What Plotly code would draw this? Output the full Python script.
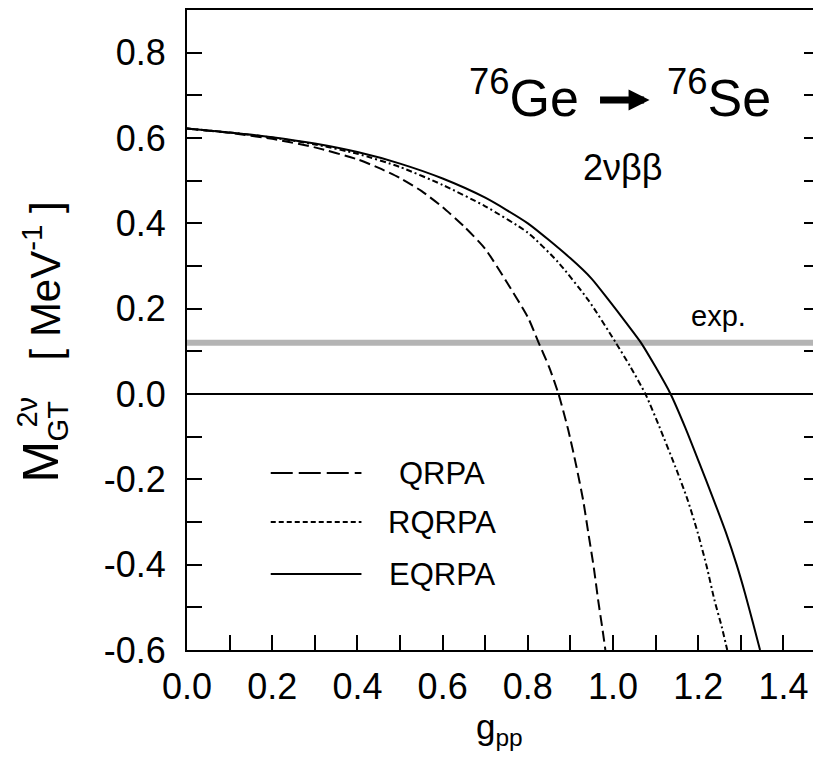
import plotly.graph_objects as go

# ---------------- data ----------------
g_qrpa = [0.0, 0.1, 0.2, 0.3, 0.4, 0.45, 0.5, 0.55, 0.6, 0.65, 0.7, 0.75, 0.8,
          0.825, 0.85, 0.872, 0.895, 0.914, 0.93, 0.942, 0.955, 0.965, 0.975, 0.982]
m_qrpa = [0.622, 0.612, 0.598, 0.578, 0.550, 0.530, 0.506, 0.476, 0.438, 0.393, 0.340, 0.263, 0.180,
          0.121, 0.063, 0.0, -0.085, -0.170, -0.250, -0.326, -0.408, -0.483, -0.550, -0.600]

g_rqrpa = [0.0, 0.1, 0.2, 0.3, 0.4, 0.5, 0.6, 0.7, 0.8, 0.87, 0.942, 1.006, 1.04,
           1.076, 1.11, 1.146, 1.175, 1.199, 1.22, 1.238, 1.255, 1.268]
m_rqrpa = [0.622, 0.613, 0.601, 0.585, 0.563, 0.532, 0.490, 0.440, 0.378, 0.310, 0.220, 0.121, 0.065,
           0.0, -0.080, -0.170, -0.248, -0.326, -0.405, -0.483, -0.545, -0.600]

g_eqrpa = [0.0, 0.1, 0.2, 0.3, 0.4, 0.5, 0.6, 0.7, 0.8, 0.9, 0.95, 0.99, 1.03, 1.065,
           1.1, 1.135, 1.17, 1.201, 1.235, 1.265, 1.29, 1.31, 1.328, 1.345]
m_eqrpa = [0.622, 0.613, 0.602, 0.587, 0.567, 0.540, 0.505, 0.460, 0.400, 0.318, 0.270, 0.220, 0.168, 0.121,
           0.063, 0.0, -0.080, -0.158, -0.245, -0.325, -0.400, -0.468, -0.535, -0.600]

exp_g = [0.0, 1.6]
exp_m = [0.12, 0.12]

series_names = ["QRPA", "RQRPA", "EQRPA"]

x_tickvals = [0.0, 0.1, 0.2, 0.3, 0.4, 0.5, 0.6, 0.7, 0.8, 0.9, 1.0, 1.1, 1.2, 1.3, 1.4]
x_ticktext = ["0.0", "", "0.2", "", "0.4", "", "0.6", "", "0.8", "", "1.0", "", "1.2", "", "1.4"]
y_tickvals = [-0.6, -0.5, -0.4, -0.3, -0.2, -0.1, 0.0, 0.1, 0.2, 0.3, 0.4, 0.5, 0.6, 0.7, 0.8]
y_ticktext = ["-0.6", "", "-0.4", "", "-0.2", "", "0.0", "", "0.2", "", "0.4", "", "0.6", "", "0.8"]

# ---------------- layout geometry ----------------
# the page has an 8px body margin; positions below are in screenshot (page) pixels
OFF = 8
W, H = 821 - OFF, 764 - 2 * OFF     # keep the page free of scrollbars
L, T = 187 - OFF, 10 - OFF          # plot-area left/top inside the figure
PLOT_BOTTOM = 650 - OFF
B = H - PLOT_BOTTOM
R = 0
PW, PH = W - L - R, PLOT_BOTTOM - T
X_SCALE = 427.4                     # pixels per unit of g_pp
x_right = PW / X_SCALE


def px(ox):
    return (ox - OFF - L) / PW


def py(oy):
    return (PLOT_BOTTOM - (oy - OFF)) / PH


FONT = "Liberation Sans, Arial, sans-serif"
BLACK = "#000000"

QRPA_DASH = "11px,5px"
RQRPA_DASH = "6px,3px,2px,3px"

fig = go.Figure()

fig.add_trace(go.Scatter(x=exp_g, y=exp_m, mode="lines",
                         line=dict(color="#b4b4b4", width=6), showlegend=False, hoverinfo="skip"))
fig.add_trace(go.Scatter(x=g_qrpa, y=m_qrpa, mode="lines", name=series_names[0],
                         line=dict(color=BLACK, width=2, dash=QRPA_DASH, shape="spline", smoothing=0.6),
                         showlegend=False))
fig.add_trace(go.Scatter(x=g_rqrpa, y=m_rqrpa, mode="lines", name=series_names[1],
                         line=dict(color=BLACK, width=2, dash=RQRPA_DASH, shape="spline", smoothing=0.6),
                         showlegend=False))
fig.add_trace(go.Scatter(x=g_eqrpa, y=m_eqrpa, mode="lines", name=series_names[2],
                         line=dict(color=BLACK, width=2, shape="spline", smoothing=0.6),
                         showlegend=False))

fig.update_layout(
    width=W, height=H, autosize=False,
    margin=dict(l=L, r=R, t=T, b=B, pad=0),
    paper_bgcolor="white", plot_bgcolor="white",
    font=dict(family=FONT, color=BLACK),
    showlegend=False,
    xaxis=dict(range=[0, x_right], tickvals=x_tickvals, ticktext=x_ticktext,
               ticks="inside", ticklen=15, tickwidth=2, tickcolor=BLACK,
               showline=True, linewidth=2, linecolor=BLACK, mirror=True,
               showgrid=False, zeroline=False,
               tickfont=dict(size=36, family=FONT), ticklabelstandoff=4),
    yaxis=dict(range=[-0.6, 0.9], tickvals=y_tickvals, ticktext=y_ticktext,
               ticks="inside", ticklen=15, tickwidth=2, tickcolor=BLACK,
               showline=True, linewidth=2, linecolor=BLACK, mirror="allticks",
               showgrid=False, zeroline=True, zerolinecolor=BLACK, zerolinewidth=1.5,
               tickfont=dict(size=36, family=FONT), ticklabelstandoff=12),
)

ann = []
# reaction title
ann.append(dict(text="<sup>76</sup>Ge", x=px(582), y=py(129), xref="paper", yref="paper",
                xanchor="right", yanchor="bottom", showarrow=False, font=dict(size=52)))
ann.append(dict(text="<sup>76</sup>Se", x=px(667), y=py(129), xref="paper", yref="paper",
                xanchor="left", yanchor="bottom", showarrow=False, font=dict(size=52)))
ann.append(dict(text="", x=px(651), y=py(100), xref="paper", yref="paper",
                ax=-51, ay=0, showarrow=True, arrowhead=2, arrowsize=0.6, arrowwidth=7,
                arrowcolor=BLACK, standoff=0, startstandoff=0))
ann.append(dict(text="2νββ", x=px(624), y=py(167), xref="paper", yref="paper",
                xanchor="center", yanchor="middle", showarrow=False, font=dict(size=36)))
ann.append(dict(text="exp.", x=px(720), y=py(316), xref="paper", yref="paper",
                xanchor="center", yanchor="middle", showarrow=False, font=dict(size=29)))

# legend (drawn by hand to match the long sample lines)
legend_rows = [(473, "22px,6px"), (522, "5px,3px"), (574, "solid")]
for name, (oy, dash) in zip(series_names, legend_rows):
    fig.add_shape(type="line", xref="paper", yref="paper",
                  x0=px(271), x1=px(362), y0=py(oy), y1=py(oy),
                  line=dict(color=BLACK, width=2, dash=dash))
    ann.append(dict(text=name, x=px(443), y=py(oy), xref="paper", yref="paper",
                    xanchor="center", yanchor="middle", showarrow=False, font=dict(size=31)))

# axis titles
ann.append(dict(text="g<sub>pp</sub>", x=px(500), y=py(705), xref="paper", yref="paper",
                xanchor="center", yanchor="top", showarrow=False, font=dict(size=35)))
ann.append(dict(text="M", x=px(41), y=py(461), xref="paper", yref="paper", textangle=-90,
                xanchor="center", yanchor="middle", showarrow=False, font=dict(size=50)))
ann.append(dict(text="2ν", x=px(26), y=py(412), xref="paper", yref="paper", textangle=-90,
                xanchor="center", yanchor="middle", showarrow=False, font=dict(size=29)))
ann.append(dict(text="GT", x=px(58), y=py(421), xref="paper", yref="paper", textangle=-90,
                xanchor="center", yanchor="middle", showarrow=False, font=dict(size=29)))
ann.append(dict(text="[ MeV<sup>-1</sup> ]", x=px(42), y=py(281), xref="paper", yref="paper", textangle=-90,
                xanchor="center", yanchor="middle", showarrow=False, font=dict(size=42)))

fig.update_layout(annotations=ann)

fig.write_html("out.html")
